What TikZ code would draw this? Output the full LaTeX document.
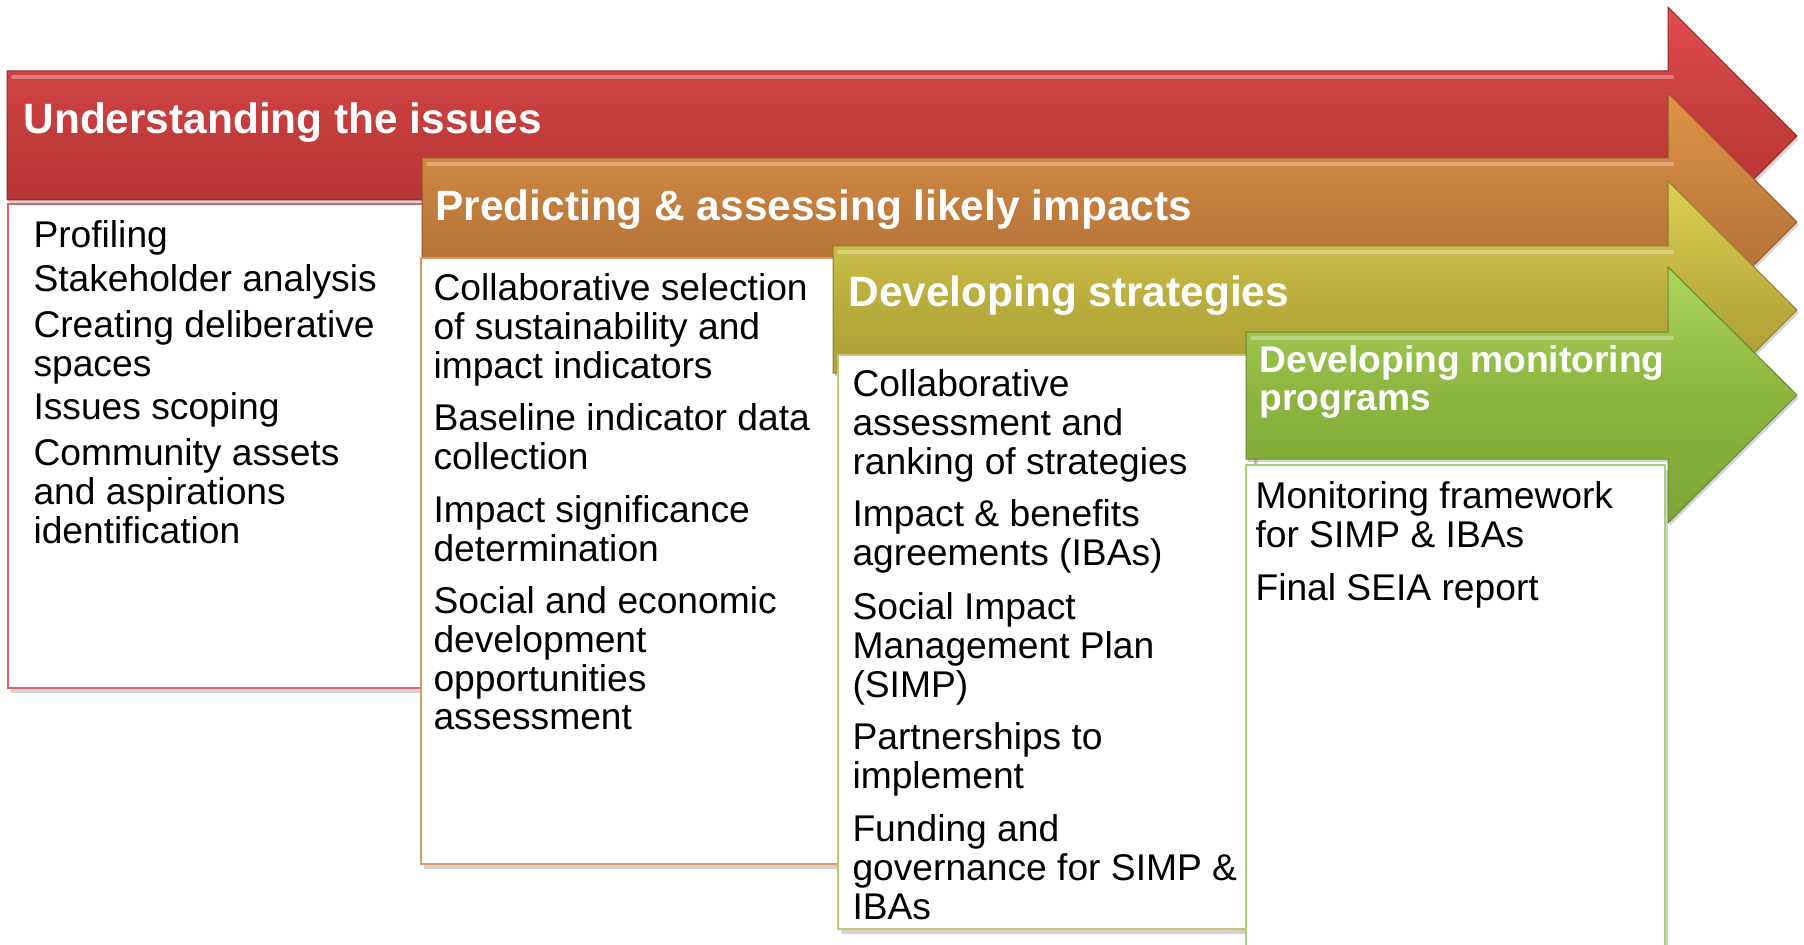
\documentclass[tikz,border=0pt]{standalone}
\usepackage{fontspec}
\setmainfont{Liberation Sans}
\usetikzlibrary{shadows}

% stage colours: top / middle / bottom of the arrow shading, and box frame
\definecolor{redTop}{HTML}{E04C4F}
\definecolor{redMid}{HTML}{C23B3B}
\definecolor{redBot}{HTML}{AC2D2E}
\definecolor{redLine}{HTML}{D96567}
\definecolor{orangeTop}{HTML}{E09448}
\definecolor{orangeMid}{HTML}{BE7A3C}
\definecolor{orangeBot}{HTML}{AA6730}
\definecolor{orangeLine}{HTML}{D89A68}
\definecolor{yellowTop}{HTML}{DCD052}
\definecolor{yellowMid}{HTML}{B8AA3C}
\definecolor{yellowBot}{HTML}{A29434}
\definecolor{yellowLine}{HTML}{CAC472}
\definecolor{greenTop}{HTML}{ACD65E}
\definecolor{greenMid}{HTML}{8CB540}
\definecolor{greenBot}{HTML}{7AA436}
\definecolor{greenLine}{HTML}{A9CF7A}

\newcommand{\leadA}{\rule{0pt}{12pt}}% first-line height of body text (30 units)
\newcommand{\leadT}{\rule{0pt}{14pt}}% first-line height of titles (35 units)

\tikzset{
  stagearrow/.style={draw=#1Bot!85!black, line width=0.4pt,
    top color=#1Top, bottom color=#1Bot, middle color=#1Mid,
    drop shadow={shadow xshift=0.6pt, shadow yshift=-1.2pt, opacity=0.35}},
  hilite/.style={draw=white, opacity=0.3, line width=1.6pt, line cap=round},
  stagebox/.style={draw=#1Line, line width=0.8pt, fill=white,
    drop shadow={shadow xshift=1.2pt, shadow yshift=-1.8pt, opacity=0.35}},
  titletext/.style={inner sep=0pt, anchor=north west, align=left, text=white,
    font=\bfseries\fontsize{16.96}{18}\selectfont},
  smalltitle/.style={inner sep=0pt, anchor=north west, align=left, text=white,
    font=\bfseries\fontsize{14.88}{15}\selectfont},
  bodytext/.style={inner sep=0pt, anchor=north west, align=left, text=black,
    font=\fontsize{14.88}{15.5}\selectfont}
}

\begin{document}
\begin{tikzpicture}[x=0.4pt, y=-0.4pt]
\useasboundingbox (0,0) rectangle (1804,945);
\clip (0,0) rectangle (1804,945);

% ---- stage 1: understanding the issues
\path[stagearrow=red] (7,71) -- (1668,71) -- (1668,7) -- (1797,136)
  -- (1668,265) -- (1668,200) -- (7,200) -- cycle;
\draw[hilite] (13,77) -- (1672,77);
\node[titletext] (t1) at (23,98) {\leadT Understanding the issues};
\path[stagebox=red] (8,204) rectangle (440,688);
\node[bodytext] (r1) at (33,217) {\leadA Profiling};
\node[bodytext] (r2) at (33,261) {\leadA Stakeholder analysis};
\node[bodytext] (r3) at (33,307) {\leadA Creating deliberative\\spaces};
\node[bodytext] (r4) at (33,389) {\leadA Issues scoping};
\node[bodytext] (r5) at (33,435) {\leadA Community assets\\and aspirations\\identification};

% ---- stage 2: predicting and assessing
\path[stagearrow=orange] (422,158) -- (1668,158) -- (1668,93) -- (1797,222)
  -- (1668,351) -- (1668,286) -- (422,286) -- cycle;
\draw[hilite] (428,164) -- (1672,164);
\node[titletext] (t2) at (435,185) {\leadT Predicting \& assessing likely impacts};
\path[stagebox=orange] (421,258) rectangle (850,864);
\node[bodytext] (o1) at (433,270) {\leadA Collaborative selection\\of sustainability and\\impact indicators};
\node[bodytext] (o2) at (433,400) {\leadA Baseline indicator data\\collection};
\node[bodytext] (o3) at (433,492) {\leadA Impact significance\\determination};
\node[bodytext] (o4) at (433,583) {\leadA Social and economic\\development\\opportunities\\assessment};

% ---- stage 3: developing strategies
\path[stagearrow=yellow] (833,246) -- (1668,246) -- (1668,181) -- (1797,310)
  -- (1668,439) -- (1668,373) -- (833,373) -- cycle;
\draw[hilite] (839,252) -- (1672,252);
\node[titletext] (t3) at (848,271) {\leadT Developing strategies};
\path[stagebox=yellow] (838,355) rectangle (1255,929);
\node[bodytext] (y1) at (852,366) {\leadA Collaborative\\assessment and\\ranking of strategies};
\node[bodytext] (y2) at (852,496) {\leadA Impact \& benefits\\agreements (IBAs)};
\node[bodytext] (y3) at (852,589) {\leadA Social Impact\\Management Plan\\(SIMP)};
\node[bodytext] (y4) at (852,719) {\leadA Partnerships to\\implement};
\node[bodytext] (y5) at (852,811) {\leadA Funding and\\governance for SIMP \&\\IBAs};

% ---- stage 4: developing monitoring programs
\path[stagearrow=green] (1246,332) -- (1668,332) -- (1668,267) -- (1797,395)
  -- (1668,523) -- (1668,459) -- (1246,459) -- cycle;
\draw[hilite] (1252,338) -- (1672,338);
\node[smalltitle] (t4) at (1259,342) {\leadA Developing monitoring\\programs};
\path[stagebox=green] (1246,465) rectangle (1665,975);
\node[bodytext] (g1) at (1255,478) {\leadA Monitoring framework\\for SIMP \& IBAs};
\node[bodytext] (g2) at (1255,570) {\leadA Final SEIA report};
\end{tikzpicture}
\end{document}
